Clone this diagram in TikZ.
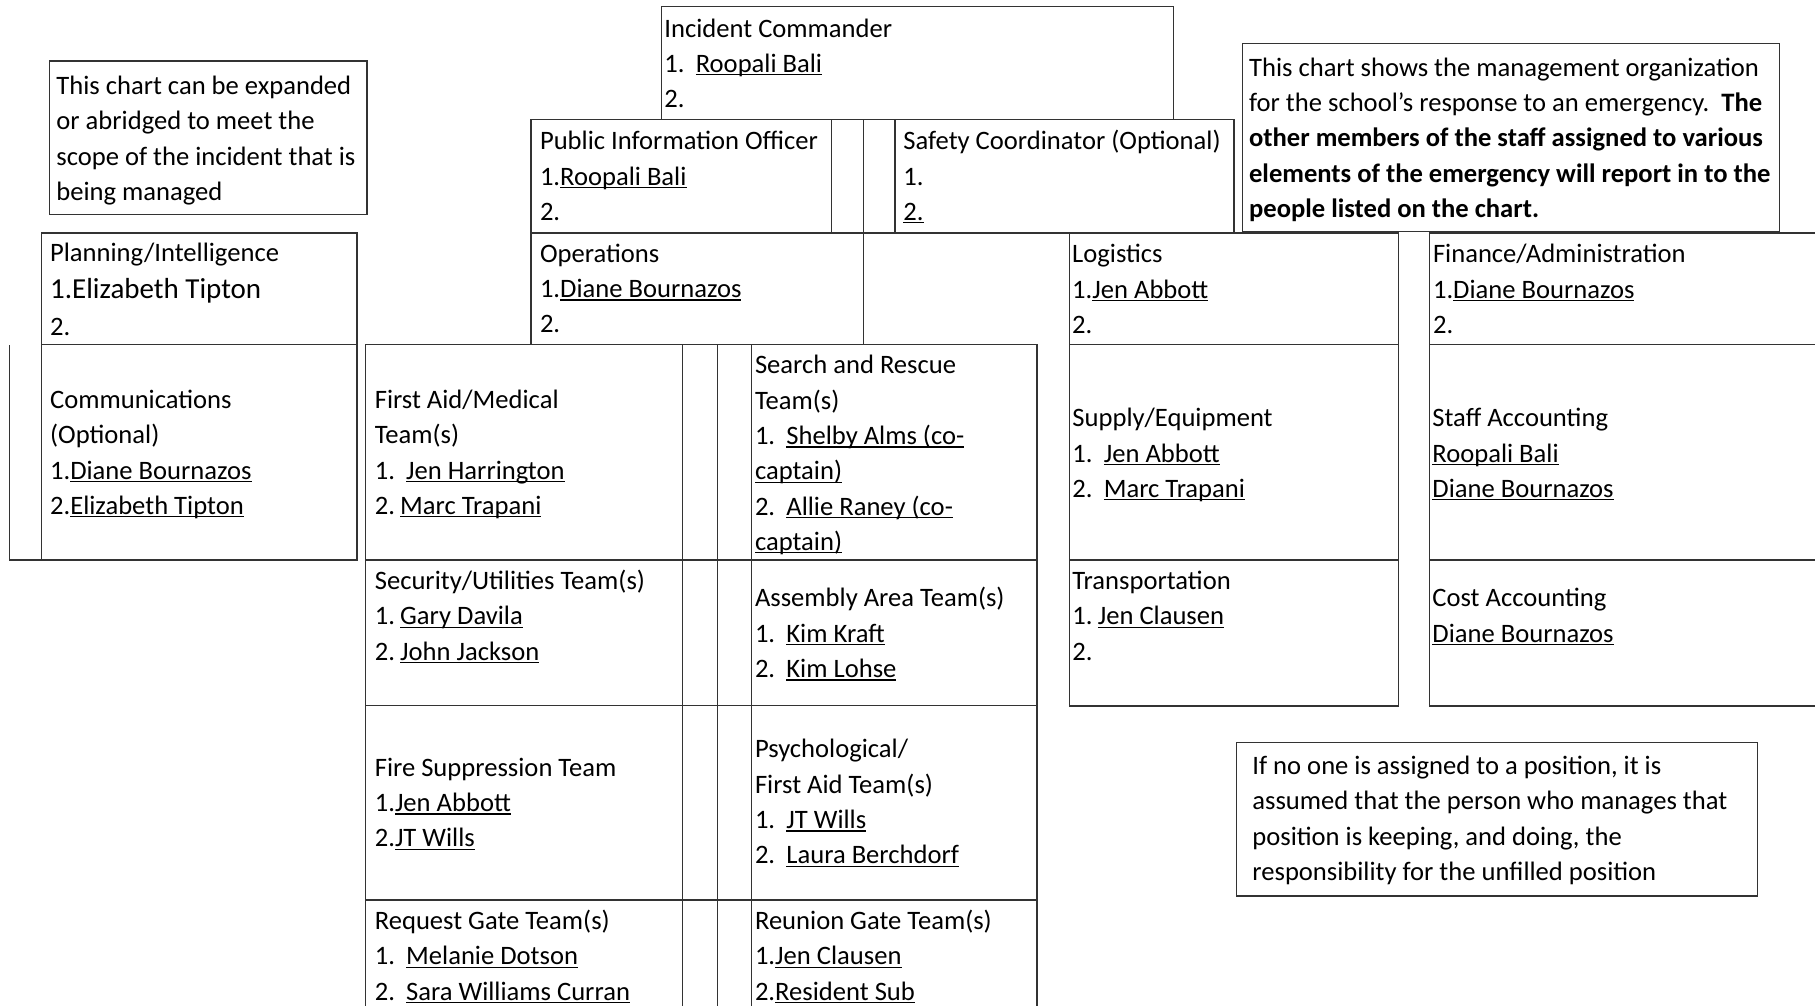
\documentclass[tikz,border=0pt]{standalone}
\usepackage{fontspec}
\setmainfont{Carlito}
\newcommand\undl[1]{\setbox0=\hbox{#1}\rlap{\rule[-1.5pt]{\wd0}{0.55pt}}\box0}
\newcommand\fst{\rule{0pt}{12.4pt}}
\newcommand\tb{\hspace{5.6pt}}
\newcommand\onesp{\hspace{2.6pt}}
\tikzset{
  ln/.style={draw=black!80, line width=0.6pt},
  txt/.style={anchor=north west, inner sep=0pt, align=left, font=\fontsize{13.3}{17.65}\selectfont}
}
\begin{document}
\begin{tikzpicture}[x=0.5pt,y=-0.5pt]
\useasboundingbox (0,0) rectangle (1815,1006);
\clip (0,0) rectangle (1815,1006);
\fill[white] (0,0) rectangle (1815,1006);
% ---- boxes ----
\draw[ln] (661.7,6.7) rectangle (1173.8,119.3);
\draw[ln] (531,119.3) rectangle (1233.9,233);
\draw[ln] (831.8,119.3) -- (831.8,233) (863.4,119.3) -- (863.4,344.7) (895,119.3) -- (895,233);
\draw[ln] (531,233) rectangle (863.4,344.7);
\draw[ln] (41.2,233) rectangle (356.9,344.7);
\draw[ln] (1069.8,233) rectangle (1398.3,706);
\draw[ln] (1069.8,344.7) -- (1398.3,344.7) (1069.8,560) -- (1398.3,560);
\draw[ln] (1830,233) -- (1429.8,233) -- (1429.8,706) -- (1830,706);
\draw[ln] (1429.8,344.7) -- (1830,344.7) (1429.8,560) -- (1830,560);
\draw[ln] (41.2,344.7) -- (356.9,344.7) -- (356.9,560) -- (9.3,560) -- (9.3,344.7);
\draw[ln] (41.2,344.7) -- (41.2,560);
\draw[ln] (365.5,1030) -- (365.5,344.7) -- (1037,344.7) -- (1037,1030);
\draw[ln] (365.5,560) -- (1037,560) (365.5,705.7) -- (1037,705.7) (365.5,900) -- (1037,900);
\draw[ln] (682.5,344.7) -- (682.5,1030) (717.4,344.7) -- (717.4,1030) (751.8,344.7) -- (751.8,1030);
\draw[ln] (49.7,61) rectangle (367,214.3);
\draw[ln] (1242.3,43.3) rectangle (1779.3,231.7);
\draw[ln] (1236.5,742.7) rectangle (1757.6,896);
% ---- texts ----
\node[txt] (ic) at (664,12) {\fst Incident Commander\\1.\tb\undl{Roopali Bali}\\2.};
\node[txt] (pio) at (539.6,124.5) {\fst Public Information Officer\\1.\undl{Roopali Bali}\\2.};
\node[txt] (safety) at (903,124.5) {\fst Safety Coordinator (Optional)\\1.\\\undl{2.}};
\node[txt] (noteL) at (56,69.3) {\fst This chart can be expanded\\or abridged to meet the\\scope of the incident that is\\being managed};
\node[txt] (noteR) at (1248.7,51) {\fst This chart shows the management organization\\for the school’s response to an emergency.\ \ \textbf{The}\\\textbf{other members of the staff assigned to various}\\\textbf{elements of the emergency will report in to the}\\\textbf{people listed on the chart.}};
\node[txt] (plan) at (49.7,236.5) {\fst Planning/Intelligence\\[0.8pt]{\fontsize{14.5}{17.65}\selectfont 1.Elizabeth Tipton}\\[0.8pt]2.};
\node[txt] (ops) at (539.6,237) {\fst Operations\\1.\undl{Diane Bournazos}\\2.};
\node[txt] (log) at (1071.8,237.5) {\fst Logistics\\1.\undl{Jen Abbott}\\2.};
\node[txt] (fin) at (1432.6,237.5) {\fst Finance/Administration\\1.\undl{Diane Bournazos}\\2.};
\node[txt] (comm) at (49.7,383.3) {\fst Communications\\(Optional)\\1.\undl{Diane Bournazos}\\2.\undl{Elizabeth Tipton}};
\node[txt] (aid) at (374.4,383.3) {\fst First Aid/Medical\\Team(s)\\1.\tb\undl{Jen Harrington}\\2.\onesp\undl{Marc Trapani}};
\node[txt] (sar) at (754.6,348.7) {\fst Search and Rescue\\Team(s)\\1.\tb\undl{Shelby Alms (co-}\\\undl{captain)}\\2.\tb\undl{Allie Raney (co-}\\\undl{captain)}};
\node[txt] (sec) at (374.4,564.3) {\fst Security/Utilities Team(s)\\1.\onesp\undl{Gary Davila}\\2.\onesp\undl{John Jackson}};
\node[txt] (asm) at (754.6,581.7) {\fst Assembly Area Team(s)\\1.\tb\undl{Kim Kraft}\\2.\tb\undl{Kim Lohse}};
\node[txt] (fire) at (374.4,751) {\fst Fire Suppression Team\\1.\undl{Jen Abbott}\\2.\undl{JT Wills}};
\node[txt] (psy) at (754.6,732.7) {\fst Psychological/\\First Aid Team(s)\\1.\tb\undl{JT Wills}\\2.\tb\undl{Laura Berchdorf}};
\node[txt] (req) at (374.4,904.3) {\fst Request Gate Team(s)\\1.\tb\undl{Melanie Dotson}\\2.\tb\undl{Sara Williams Curran}};
\node[txt] (reu) at (754.6,904.3) {\fst Reunion Gate Team(s)\\1.\undl{Jen Clausen}\\2.\undl{Resident Sub}};
\node[txt] (sup) at (1072,401.5) {\fst Supply/Equipment\\1.\tb\undl{Jen Abbott}\\2.\tb\undl{Marc Trapani}};
\node[txt] (staff) at (1432,401.5) {\fst Staff Accounting\\\undl{Roopali Bali}\\\undl{Diane Bournazos}};
\node[txt] (trans) at (1072,564.3) {\fst Transportation\\1.\onesp\undl{Jen Clausen}\\2.};
\node[txt] (cost) at (1432,581.7) {\fst Cost Accounting\\\undl{Diane Bournazos}};
\node[txt] (noteB) at (1252,749.3) {\fst If no one is assigned to a position, it is\\assumed that the person who manages that\\position is keeping, and doing, the\\responsibility for the unfilled position};
\end{tikzpicture}
\end{document}
